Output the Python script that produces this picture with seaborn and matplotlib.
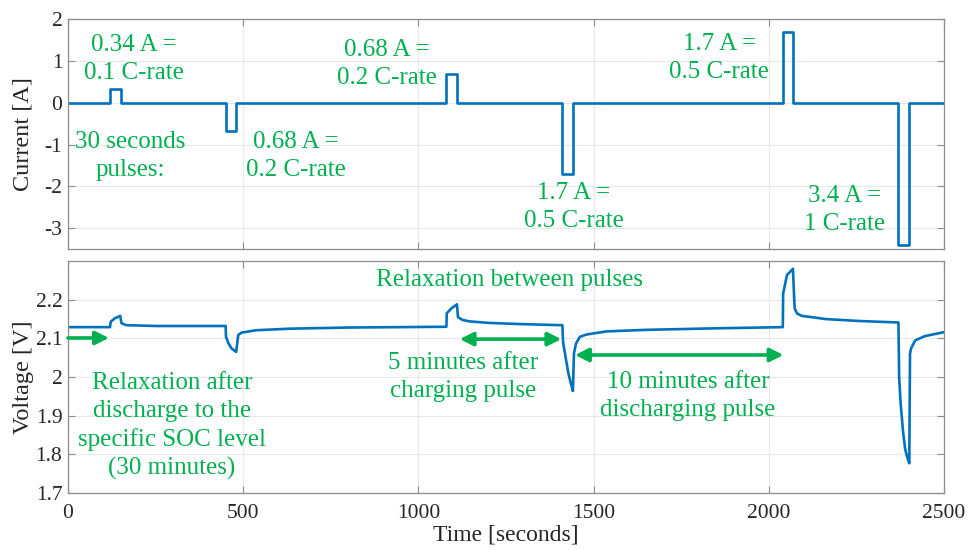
import matplotlib
matplotlib.use('Agg')
import matplotlib.pyplot as plt
import seaborn as sns
import pandas as pd

# current pulses (step profile), time in seconds
cur_time = [0, 120, 120, 150, 150, 450, 450, 480, 480, 1080, 1080, 1110, 1110,
            1410, 1410, 1440, 1440, 2040, 2040, 2070, 2070, 2370, 2370, 2400, 2400, 2500]
cur_amp = [0, 0, 0.34, 0.34, 0, 0, -0.68, -0.68, 0, 0, 0.68, 0.68, 0,
           0, -1.7, -1.7, 0, 0, 1.7, 1.7, 0, 0, -3.4, -3.4, 0, 0]

# voltage response
volt_time = [0, 120, 122, 134, 149, 153, 167, 253, 450,
             451, 458, 467, 480, 486, 496, 537, 632, 800, 1080,
             1081, 1095, 1110, 1113, 1125, 1145, 1200, 1288, 1411,
             1413, 1420, 1428, 1435, 1441, 1444, 1450, 1461, 1480, 1537, 1649, 1850, 2040,
             2041, 2052, 2066, 2069, 2072, 2074, 2081, 2095, 2130, 2161, 2256, 2370,
             2372, 2376, 2383, 2389, 2396, 2401, 2403, 2406, 2418, 2446, 2500]
volt_val = [2.129, 2.129, 2.143, 2.152, 2.158, 2.139, 2.134, 2.132, 2.132,
            2.104, 2.087, 2.074, 2.065, 2.109, 2.115, 2.121, 2.125, 2.128, 2.130,
            2.165, 2.178, 2.188, 2.155, 2.148, 2.144, 2.140, 2.137, 2.134,
            2.090, 2.052, 2.010, 1.984, 1.964, 2.061, 2.087, 2.104, 2.110, 2.118, 2.122, 2.126, 2.129,
            2.216, 2.264, 2.277, 2.280, 2.212, 2.177, 2.164, 2.158, 2.154, 2.150, 2.145, 2.141,
            2.000, 1.935, 1.860, 1.814, 1.790, 1.777, 2.060, 2.074, 2.095, 2.106, 2.116]

x_ticks = [0, 500, 1000, 1500, 2000, 2500]
cur_ticks = [-3, -2, -1, 0, 1, 2]
volt_ticks = [1.7, 1.8, 1.9, 2.0, 2.1, 2.2]
volt_tick_labels = ['1.7', '1.8', '1.9', '2', '2.1', '2.2']

blue = '#0072bd'
green = '#00b050'

sns.set_theme(style='whitegrid')
plt.rcParams['font.family'] = ['Liberation Serif', 'DejaVu Serif']
plt.rcParams['axes.unicode_minus'] = False
plt.rcParams['axes.edgecolor'] = '#8c8c8c'
plt.rcParams['grid.color'] = '#e8e8e8'
plt.rcParams['grid.linewidth'] = 0.8

df_cur = pd.DataFrame({'t': cur_time, 'i': cur_amp})
df_volt = pd.DataFrame({'t': volt_time, 'v': volt_val})

fig = plt.figure(figsize=(9.68, 5.5), dpi=100)
ax1 = fig.add_axes([0.0702, 0.547, 0.905, 0.418])
ax2 = fig.add_axes([0.0702, 0.1036, 0.905, 0.4218])

sns.lineplot(data=df_cur, x='t', y='i', ax=ax1, color=blue, linewidth=1.9,
             sort=False, estimator=None)
sns.lineplot(data=df_volt, x='t', y='v', ax=ax2, color=blue, linewidth=1.9,
             sort=False, estimator=None)

for ax in (ax1, ax2):
    ax.set_xlim(0, 2500)
    ax.set_xticks(x_ticks)
    ax.tick_params(direction='in', length=5, width=0.8, color='#8c8c8c',
                   top=True, right=True, bottom=True, left=True,
                   labelsize=15.5, labelcolor='#262626', pad=4)
    ax.tick_params(axis='x', pad=8)
    for s in ax.spines.values():
        s.set_linewidth(0.9)
        s.set_color('#8c8c8c')

ax1.set_ylim(-3.5, 2)
ax1.set_yticks(cur_ticks)
ax1.set_xticklabels([])
ax1.set_xlabel('')
ax1.set_ylabel('Current [A]', fontsize=17.5, color='#262626')
ax1.yaxis.set_label_coords(-0.039, 0.5)

ax2.set_ylim(1.7, 2.3)
ax2.set_yticks(volt_ticks)
ax2.set_yticklabels(volt_tick_labels)
ax2.set_xlabel('Time [seconds]', fontsize=17, color='#262626', labelpad=1)
ax2.set_ylabel('Voltage [V]', fontsize=17.5, color='#262626')
ax2.yaxis.set_label_coords(-0.039, 0.5)

# annotations on the current plot
txt = dict(color=green, fontsize=18, ha='center', va='center', linespacing=1.35)
ax1.text(187, 1.04, '0.34 A =\n0.1 C-rate', **txt)
ax1.text(178, -1.28, '30 seconds\npulses:', **txt)
ax1.text(651, -1.28, '0.68 A =\n0.2 C-rate', **txt)
ax1.text(910, 0.92, '0.68 A =\n0.2 C-rate', **txt)
ax1.text(1443, -2.50, '1.7 A =\n0.5 C-rate', **txt)
ax1.text(1859, 1.07, '1.7 A =\n0.5 C-rate', **txt)
ax1.text(2217, -2.56, '3.4 A =\n1 C-rate', **txt)

# annotations on the voltage plot
ax2.text(1261, 2.251, 'Relaxation between pulses', **txt)
ax2.text(297, 1.873, 'Relaxation after\ndischarge to the\nspecific SOC level\n(30 minutes)', **txt)
ax2.text(1127, 2.001, '5 minutes after\ncharging pulse', **txt)
ax2.text(1769, 1.950, '10 minutes after\ndischarging pulse', **txt)

arrow = dict(color=green, lw=2.6, mutation_scale=20, shrinkA=0, shrinkB=0)
ax2.annotate('', xy=(117, 2.101), xytext=(0, 2.101),
             arrowprops=dict(arrowstyle='-|>', **arrow))
ax2.annotate('', xy=(1408, 2.098), xytext=(1118, 2.098),
             arrowprops=dict(arrowstyle='<|-|>', **arrow))
ax2.annotate('', xy=(2042, 2.057), xytext=(1447, 2.057),
             arrowprops=dict(arrowstyle='<|-|>', **arrow))

fig.savefig('out.png', dpi=100)
